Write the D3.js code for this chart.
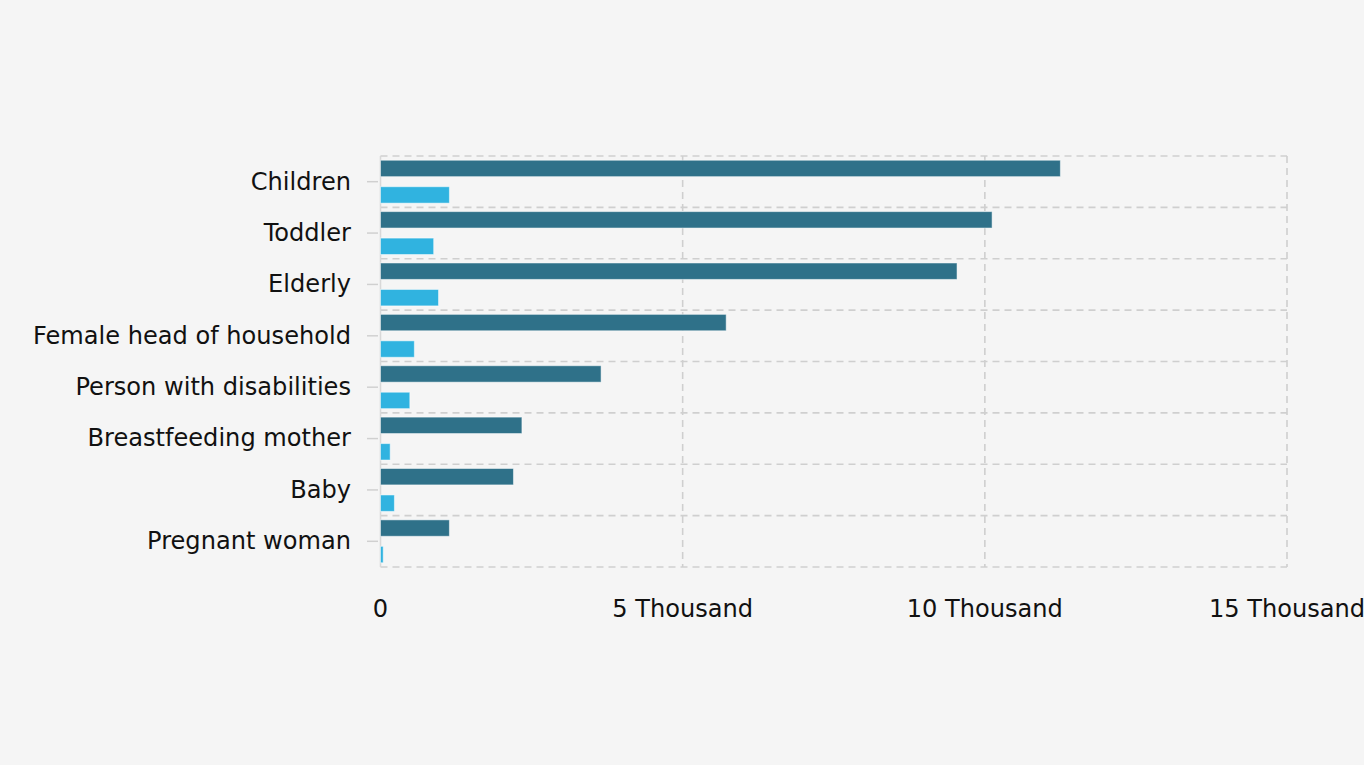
<!DOCTYPE html>
<meta charset="utf-8">
<style>
    body { margin: 0; background-color: #f5f5f5; }
    svg { display: block; background-color: #f5f5f5; }
    text { font-family: "DejaVu Sans", Verdana, sans-serif; fill: #111; }
</style>

<script src="https://d3js.org/d3.v7.min.js"></script>

<svg id="chart" width="1364" height="765"></svg>

<script>

// Data

var categories = ['Children', 'Toddler', 'Elderly', 'Female head of household',
                  'Person with disabilities', 'Breastfeeding mother', 'Baby', 'Pregnant woman'];
var seriesA = [11250, 10120, 9540, 5720, 3650, 2340, 2200, 1140];   // dark bars
var seriesB = [1140, 880, 960, 560, 485, 160, 230, 45];             // light bars
var xTicks = [0, 5000, 10000, 15000];
var xTickLabels = ['0', '5 Thousand', '10 Thousand', '15 Thousand'];

// Setup

var svg = d3.select('svg#chart');

var plotLeft = 380.5, plotRight = 1287, plotTop = 156, plotBottom = 567;

var x = d3.scaleLinear().domain([0, 15000]).range([plotLeft, plotRight]);
var y = d3.scaleBand().domain(categories).range([plotTop, plotBottom]);
var sub = d3.scaleBand().domain([0, 1]).range([0, y.bandwidth()])
    .paddingInner(0.38).paddingOuter(0.16);

var colors = ['#2f7189', '#30b3e0'];

// Grid

var grid = svg.append('g')
    .attr('stroke', '#cfcfcf')
    .attr('stroke-width', 1.6)
    .attr('stroke-dasharray', '7,5')
    .attr('fill', 'none');

grid.selectAll('line.h')
    .data(d3.range(categories.length + 1))
    .enter().append('line')
    .attr('x1', plotLeft).attr('x2', plotRight)
    .attr('y1', function (i) { return plotTop + i * y.step(); })
    .attr('y2', function (i) { return plotTop + i * y.step(); });

grid.selectAll('line.v')
    .data(xTicks.slice(1))
    .enter().append('line')
    .attr('x1', function (d) { return x(d); })
    .attr('x2', function (d) { return x(d); })
    .attr('y1', plotTop).attr('y2', plotBottom);

// Left axis line and ticks

svg.append('line')
    .attr('x1', plotLeft).attr('x2', plotLeft)
    .attr('y1', plotTop).attr('y2', plotBottom)
    .attr('stroke', '#d8d8d8').attr('stroke-width', 1.5);

svg.selectAll('line.ytick')
    .data(categories)
    .enter().append('line')
    .attr('x1', 367).attr('x2', 378)
    .attr('y1', function (d) { return y(d) + y.bandwidth() / 2; })
    .attr('y2', function (d) { return y(d) + y.bandwidth() / 2; })
    .attr('stroke', '#d0d0d0').attr('stroke-width', 1.5);

// Labels

svg.selectAll('text.ylab')
    .data(categories)
    .enter().append('text')
    .attr('x', 351)
    .attr('y', function (d) { return y(d) + y.bandwidth() / 2 - 0.5; })
    .attr('dy', '0.35em')
    .attr('text-anchor', 'end')
    .style('font-size', '24.1px')
    .text(function (d) { return d; });

svg.selectAll('text.xlab')
    .data(xTicks)
    .enter().append('text')
    .attr('x', function (d) { return x(d); })
    .attr('y', 617)
    .attr('text-anchor', 'middle')
    .style('font-size', '24.1px')
    .text(function (d, i) { return xTickLabels[i]; });

// Bars

[seriesA, seriesB].forEach(function (series, s) {
    svg.append('g').selectAll('rect')
        .data(series)
        .enter().append('rect')
        .attr('x', x(0))
        .attr('y', function (d, i) { return y(categories[i]) + sub(s); })
        .attr('width', function (d) { return x(d) - x(0); })
        .attr('height', sub.bandwidth())
        .attr('fill', colors[s])
        .attr('stroke', 'rgba(255,255,255,0.5)')
        .attr('stroke-width', 1);
});

</script>
